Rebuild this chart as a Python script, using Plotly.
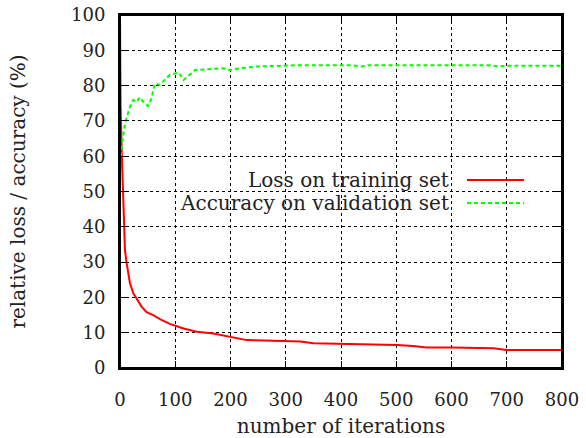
import plotly.graph_objects as go

# Data
loss_iter = [0, 1, 3, 6, 9, 12, 18, 24, 30, 39, 48, 60, 75, 90, 115, 139, 169, 205, 229, 260,
             290, 326, 350, 400, 450, 501, 530, 555, 600, 650, 676, 700, 750, 800]
loss_val = [100, 75, 61.8, 47.6, 33.4, 29.7, 24, 21.2, 19.7, 17.4, 15.8, 15.0, 13.6, 12.5, 11.2,
            10.3, 9.8, 8.7, 7.9, 7.8, 7.7, 7.5, 7.0, 6.9, 6.8, 6.5, 6.2, 5.8, 5.8, 5.7, 5.6, 5.1, 5.1, 5.1]

acc_iter = [0, 3, 9, 18, 24, 30, 36, 42, 51, 57, 63, 72, 81, 90, 106, 115, 136, 163, 187, 199,
            217, 247, 290, 326, 380, 420, 437, 450, 500, 550, 600, 650, 670, 684, 700, 750, 800]
acc_val = [58, 62.7, 69.3, 74, 75.9, 75.4, 76.7, 75.4, 74.2, 76.4, 80.6, 80.2, 81.6, 83, 83.7,
           81.6, 84.4, 84.6, 84.9, 84.4, 84.9, 85.4, 85.7, 85.8, 85.8, 85.8, 85.4, 85.8, 85.8,
           85.8, 85.9, 85.8, 85.8, 85.4, 85.6, 85.6, 85.6]

x_ticks = [0, 100, 200, 300, 400, 500, 600, 700, 800]
y_ticks = [0, 10, 20, 30, 40, 50, 60, 70, 80, 90, 100]

legend_names = ["Loss on training set", "Accuracy on validation set"]

FONT = "DejaVu Serif"
TXT = "#222"

fig = go.Figure()
fig.add_trace(go.Scatter(x=loss_iter, y=loss_val, mode="lines", name=legend_names[0],
                         line=dict(color="#ff0000", width=2), showlegend=False))
fig.add_trace(go.Scatter(x=acc_iter, y=acc_val, mode="lines", name=legend_names[1],
                         line=dict(color="#00ff00", width=2, dash="4px,3px"), showlegend=False))

axis_common = dict(
    showline=True, linecolor="black", linewidth=2, mirror="ticks",
    ticks="inside", ticklen=7, tickwidth=1, tickcolor="black",
    showgrid=True, gridcolor="black", gridwidth=1, griddash="dot",
    zeroline=False, automargin=False, ticklabeloverflow="allow",
    tickfont=dict(family=FONT, size=18, color=TXT),
)

fig.update_xaxes(range=[0, 800], tickvals=x_ticks, ticklabelstandoff=14,
                 title=dict(text="number of iterations", font=dict(family=FONT, size=20, color=TXT), standoff=27),
                 **axis_common)
fig.update_yaxes(range=[0, 100], tickvals=y_ticks, ticklabelstandoff=9,
                 title=dict(text="relative loss / accuracy (%)", font=dict(family=FONT, size=20, color=TXT), standoff=40),
                 **axis_common)

# Legend box (opaque) with text on the left and samples on the right, as in gnuplot
fig.add_shape(type="rect", xref="paper", yref="paper", x0=0.003, x1=0.968, y0=0.433, y1=0.569,
              fillcolor="white", line=dict(width=0), layer="between")
rows_y = [0.5326, 0.4674]
styles = [dict(color="#ff0000", width=2), dict(color="#00ff00", width=2, dash="4px,3px")]
for name, yy, st in zip(legend_names, rows_y, styles):
    fig.add_annotation(xref="paper", yref="paper", x=0.749, y=yy, text=name, showarrow=False,
                       xanchor="right", yanchor="middle",
                       font=dict(family=FONT, size=20, color=TXT))
    fig.add_shape(type="line", xref="paper", yref="paper", x0=0.785, x1=0.914, y0=yy, y1=yy,
                  line=st, layer="above")

# Plot frame
fig.add_shape(type="rect", xref="paper", yref="paper", x0=0, x1=1, y0=0, y1=1,
              line=dict(color="black", width=2), fillcolor="rgba(0,0,0,0)", layer="above")

fig.update_layout(
    width=586, height=438,
    margin=dict(l=120, r=24, t=15, b=70),
    paper_bgcolor="white", plot_bgcolor="white",
    showlegend=False,
)

# Remove the browser's default 8px body margin so the figure fills the window
fig.write_html("out.html", config={"displayModeBar": False},
               post_script="document.body.style.margin='0';document.body.style.padding='0';")
